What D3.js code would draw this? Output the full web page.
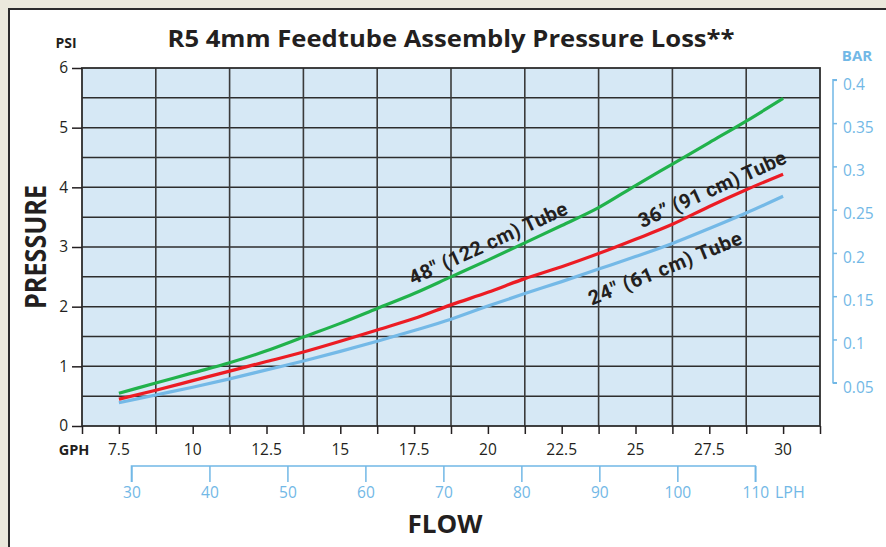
<!DOCTYPE html>
<html><head><meta charset="utf-8">
<script src="https://cdn.jsdelivr.net/npm/d3@7"></script>
<style>
html,body{margin:0;padding:0;background:#ebe9dc;}
svg{display:block;}
text{font-family:"Open Sans","Noto Sans",sans-serif;}
</style></head>
<body><svg id="c" width="886" height="547"></svg>
<script>
// ---- data ----
const flowGPH = [7.5, 8.75, 10, 11.25, 12.5, 13.75, 15, 16.25, 17.5, 18.75, 20, 21.25, 22.5, 23.75, 25, 26.25, 27.5, 28.75, 30];
const tube48 = [0.55, 0.72, 0.89, 1.06, 1.26, 1.49, 1.72, 1.97, 2.22, 2.50, 2.78, 3.07, 3.36, 3.66, 4.03, 4.39, 4.75, 5.11, 5.49];
const tube36 = [0.45, 0.60, 0.76, 0.92, 1.08, 1.24, 1.42, 1.61, 1.80, 2.03, 2.24, 2.47, 2.67, 2.89, 3.13, 3.38, 3.68, 3.96, 4.22];
const tube24 = [0.39, 0.52, 0.65, 0.79, 0.94, 1.09, 1.25, 1.42, 1.60, 1.79, 2.01, 2.22, 2.42, 2.63, 2.84, 3.06, 3.31, 3.57, 3.85];
const seriesNames = ['48" (122 cm) Tube', '36” (91 cm) Tube', '24" (61 cm) Tube'];
const gphTickLabels = [7.5, 10, 12.5, 15, 17.5, 20, 22.5, 25, 27.5, 30];
const gphMinorTicks = [6.25, 7.5, 8.75, 10, 11.25, 12.5, 13.75, 15, 16.25, 17.5, 18.75, 20, 21.25, 22.5, 23.75, 25, 26.25, 27.5, 28.75, 30, 31.25];
const gphGrid = [8.75, 11.25, 13.75, 16.25, 18.75, 21.25, 23.75, 26.25, 28.75];
const psiTicks = [0, 1, 2, 3, 4, 5, 6];
const psiGrid = [0.5, 1, 1.5, 2, 2.5, 3, 3.5, 4, 4.5, 5, 5.5];
const barTicks = [0.05, 0.1, 0.15, 0.2, 0.25, 0.3, 0.35, 0.4];
const lphTicks = [30, 40, 50, 60, 70, 80, 90, 100, 110];
const PSI_PER_BAR = 14.5038, L_PER_GAL = 3.78541;

const svg = d3.select('#c');
const x = d3.scaleLinear().domain([6.25, 31.25]).range([82, 820]);
const y = d3.scaleLinear().domain([0, 6]).range([426, 68]);
const yBar = d3.scaleLinear().domain([0, 6 / PSI_PER_BAR]).range([426, 68]);
const xL = d3.scaleLinear().domain([6.25 * L_PER_GAL, 31.25 * L_PER_GAL]).range([82, 820]);

const DARK = '#231f20', LB = '#72b8e6';
const colors = ['#21b24b', '#ec1c24', '#74b9e7'];

// panel
svg.append('rect').attr('x', 9).attr('y', 9).attr('width', 900).attr('height', 560)
  .attr('fill', '#fff').attr('stroke', '#2b2b2b').attr('stroke-width', 2);

// plot background
svg.append('rect').attr('x', x.range()[0]).attr('y', y.range()[1])
  .attr('width', x.range()[1] - x.range()[0]).attr('height', y.range()[0] - y.range()[1])
  .attr('fill', '#d6e8f5');

// grid
svg.append('g').selectAll('line').data(psiGrid).join('line')
  .attr('x1', x.range()[0]).attr('x2', x.range()[1])
  .attr('y1', d => y(d)).attr('y2', d => y(d))
  .attr('stroke', '#2d2d2d').attr('stroke-width', 1.5);
svg.append('g').selectAll('line').data(gphGrid).join('line')
  .attr('y1', y.range()[0]).attr('y2', y.range()[1])
  .attr('x1', d => x(d)).attr('x2', d => x(d))
  .attr('stroke', '#3a3a3a').attr('stroke-width', 1.6);
svg.append('rect').attr('x', x.range()[0]).attr('y', y.range()[1])
  .attr('width', x.range()[1] - x.range()[0]).attr('height', y.range()[0] - y.range()[1])
  .attr('fill', 'none').attr('stroke', '#2d2d2d').attr('stroke-width', 1.8);

// left axis
const gl = svg.append('g').attr('transform', `translate(${x.range()[0]},0)`)
  .call(d3.axisLeft(y).tickValues(psiTicks).tickSize(10).tickPadding(4).tickFormat(d3.format('d')));
gl.select('.domain').remove();
gl.selectAll('.tick line').attr('stroke', DARK).attr('stroke-width', 1.5);
gl.selectAll('.tick text').attr('fill', DARK).style('font-size', '15.5px').style('font-family', '"Open Sans",sans-serif');

// bottom axis
const gb = svg.append('g').attr('transform', `translate(0,${y.range()[0]})`)
  .call(d3.axisBottom(x).tickValues(gphMinorTicks).tickSize(8).tickFormat(''));
gb.select('.domain').remove();
gb.selectAll('.tick line').attr('stroke', DARK).attr('stroke-width', 1.5);
svg.append('g').selectAll('text').data(gphTickLabels).join('text')
  .attr('x', d => x(d)).attr('y', 455).attr('text-anchor', 'middle')
  .attr('fill', DARK).style('font-size', '15.5px').text(d => d);
svg.append('text').attr('x', 74).attr('y', 455).attr('text-anchor', 'middle')
  .attr('fill', DARK).style('font-size', '14.5px').style('font-weight', 700).text('GPH');

// right BAR axis
const gr = svg.append('g').attr('transform', 'translate(833,0)')
  .call(d3.axisRight(yBar).tickValues(barTicks).tickSize(4).tickPadding(6).tickFormat(d => d3.format('')(+d.toFixed(2))));
gr.select('.domain').attr('d', `M4,${yBar(0.4)}H0V${yBar(0.05)}H4`).attr('stroke', LB).attr('stroke-width', 1.5).attr('fill', 'none');
gr.selectAll('.tick line').attr('stroke', LB).attr('stroke-width', 1.5);
gr.selectAll('.tick text').attr('fill', LB).attr('dy', '0.6em').style('font-size', '15.5px').style('font-family', '"Open Sans",sans-serif');
svg.append('text').attr('x', 857).attr('y', 61).attr('text-anchor', 'middle')
  .attr('fill', LB).style('font-size', '15px').style('font-weight', 700).text('BAR');

// LPH axis
const gL = svg.append('g').attr('transform', 'translate(0,466)')
  .call(d3.axisBottom(xL).tickValues(lphTicks).tickSize(16).tickPadding(5).tickFormat(d3.format('d')));
gL.select('.domain').attr('d', `M${xL(30)},16V0H${xL(110)}V16`).attr('stroke', LB).attr('stroke-width', 1.5).attr('fill', 'none');
gL.selectAll('.tick line').attr('stroke', LB).attr('stroke-width', 1.5);
gL.selectAll('.tick text').attr('fill', LB).style('font-size', '15.5px').style('font-family', '"Open Sans",sans-serif');
svg.append('text').attr('x', 775).attr('y', 498).attr('fill', LB).style('font-size', '16px').text('LPH');

// titles
svg.append('text').attr('x', 451).attr('y', 47).attr('text-anchor', 'middle')
  .attr('fill', DARK).style('font-size', '23.5px').style('font-weight', 700)
  .attr('textLength', 567).attr('lengthAdjust', 'spacingAndGlyphs')
  .text('R5 4mm Feedtube Assembly Pressure Loss**');
svg.append('text').attr('x', 66).attr('y', 48).attr('text-anchor', 'middle')
  .attr('fill', DARK).style('font-size', '14px').style('font-weight', 700).text('PSI');
svg.append('text').attr('transform', 'translate(46,247) rotate(-90)').attr('text-anchor', 'middle')
  .attr('fill', DARK).style('font-size', '28px').style('font-weight', 700)
  .attr('textLength', 124).attr('lengthAdjust', 'spacingAndGlyphs').text('PRESSURE');
svg.append('text').attr('x', 445).attr('y', 533).attr('text-anchor', 'middle')
  .attr('fill', DARK).style('font-size', '25px').style('font-weight', 700)
  .attr('textLength', 75).attr('lengthAdjust', 'spacingAndGlyphs').text('FLOW');

// lines
const series = [tube48, tube36, tube24];
const line = d3.line().x((d, i) => x(flowGPH[i])).y(d => y(d)).curve(d3.curveMonotoneX);
[2, 1, 0].forEach(k => {
  svg.append('path').datum(series[k]).attr('d', line).attr('fill', 'none')
    .attr('stroke', colors[k]).attr('stroke-width', 3.2).attr('stroke-linecap', 'butt');
});

// line labels
const labelPos = [
  {cx: 488, cy: 243, a: -24.7, len: 172},
  {cx: 712, cy: 189, a: -24.2, len: 160},
  {cx: 665, cy: 268, a: -22.2, len: 164}
];
labelPos.forEach((p, k) => {
  svg.append('text').attr('transform', `translate(${p.cx},${p.cy}) rotate(${p.a})`)
    .attr('text-anchor', 'middle').attr('dy', '0.35em')
    .attr('fill', DARK).style('font-size', '20px').style('font-weight', 700)
    .style('font-family', 'Roboto, "Open Sans", sans-serif')
    .attr('textLength', p.len).attr('lengthAdjust', 'spacing')
    .text(seriesNames[k]);
});
</script></body></html>
